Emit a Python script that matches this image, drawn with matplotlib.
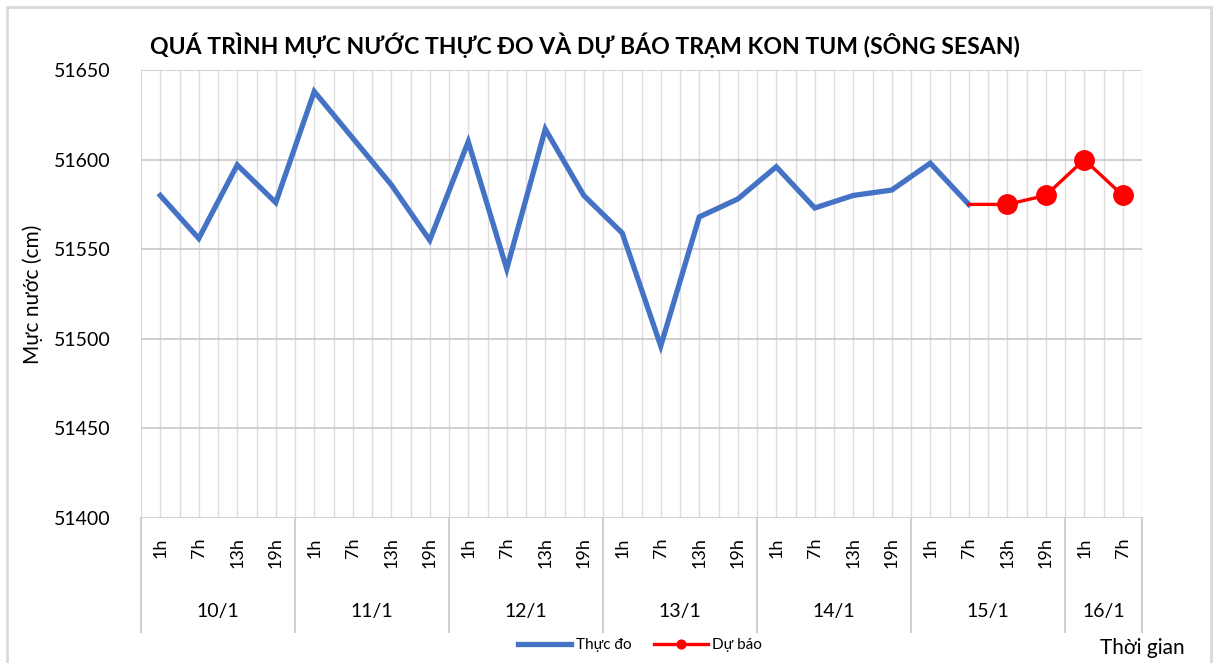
import numpy as np
import matplotlib.pyplot as plt
from matplotlib.patches import Rectangle

plt.rcParams['font.family'] = ['Lato', 'DejaVu Sans']

days = ['10/1', '11/1', '12/1', '13/1', '14/1', '15/1', '16/1']
hours_per_day = [4, 4, 4, 4, 4, 4, 2]
hour_labels = ['1h', '7h', '13h', '19h'] * 6 + ['1h', '7h']

# thuc do (observed), 10/1 1h -> 15/1 7h
observed = [51580, 51556, 51597, 51576,
            51638, 51612, 51586, 51555,
            51610, 51539, 51617, 51580,
            51559, 51496, 51568, 51578,
            51596, 51573, 51580, 51583,
            51598, 51575]
# du bao (forecast), 15/1 7h -> 16/1 7h
forecast = [51575, 51575, 51580, 51600, 51580]

n = len(hour_labels)
x = np.arange(n)
x_obs = x[:len(observed)]
x_fc = x[n - len(forecast):]

W, H = 1213, 663
fig = plt.figure(figsize=(W / 100, H / 100), dpi=100)
ax = fig.add_axes([141 / W, 1 - 518 / H, (1142 - 141) / W, (518 - 70) / H])

ax.set_xlim(-0.5, n - 0.5)
ax.set_ylim(51400, 51650)
ax.set_yticks(np.arange(51400, 51651, 50))

for gx in np.arange(-0.5, n, 0.5):
    ax.axvline(gx, color='#dcdcdc', lw=1, zorder=0)
for gy in np.arange(51400, 51651, 50):
    ax.axhline(gy, color='#c8c8c8', lw=1.2, zorder=0)

ax.plot(x_obs, observed, color='#4472c4', lw=3.8, solid_joinstyle='miter', label='Thực đo', zorder=3)
ax.plot(x_fc, forecast, color='#ff0000', lw=2.4, marker='o', markersize=14,
        markevery=[1, 2, 3, 4], label='Dự báo', zorder=4)

for s in ax.spines.values():
    s.set_visible(False)
ax.tick_params(axis='both', length=0)
ax.tick_params(axis='y', labelsize=14, pad=22)
ax.set_xticks(x)
ax.set_xticklabels(hour_labels, rotation=90, va='top', fontsize=13)
ax.tick_params(axis='x', pad=14)
ax.set_ylabel('Mực nước (cm)', fontsize=15, labelpad=8)

# day separators and labels below the axis
trans = ax.get_xaxis_transform()
bottom = -(632 - 518) / (518 - 70)
bounds = np.concatenate([[-0.5], np.cumsum(hours_per_day) - 0.5])
for b in bounds:
    ax.plot([b, b], [0, bottom], color='#d0d0d0', lw=1.5, transform=trans, clip_on=False)
for i, d in enumerate(days):
    cx = (bounds[i] + bounds[i + 1]) / 2
    ax.text(cx, -(612 - 518) / (518 - 70), d, transform=trans, ha='center', va='center', fontsize=14)

fig.text(150 / W, 1 - 45 / H, 'QUÁ TRÌNH MỰC NƯỚC THỰC ĐO VÀ DỰ BÁO TRẠM KON TUM (SÔNG SESAN)',
         fontsize=16.6, fontweight='bold', ha='left', va='center')
fig.text(1142 / W, 1 - 648 / H, 'Thời gian', fontsize=15, ha='center', va='center')

fig.legend(loc='center', ncol=2, bbox_to_anchor=(640 / W, 1 - 645 / H), frameon=False,
           fontsize=11, handlelength=3.5, columnspacing=1.5, handletextpad=0.3, markerscale=0.45)

fig.patches.append(Rectangle((7 / W, -0.01), (1211 - 7) / W, 1 - 7 / H + 0.01, transform=fig.transFigure,
                             fill=False, edgecolor='#d9d9d9', lw=2))

fig.savefig('out.png', dpi=100)
